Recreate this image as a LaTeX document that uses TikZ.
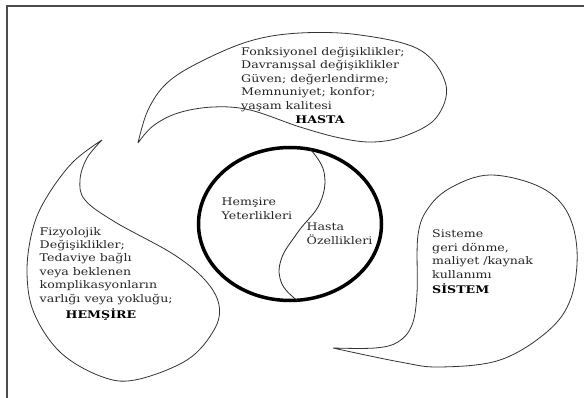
\documentclass[tikz,border=0pt]{standalone}
\usepackage{fontspec}
\usetikzlibrary{shapes.geometric}
\setmainfont{DejaVu Serif}[FakeStretch=1.2]
\begin{document}
\begin{tikzpicture}[x=1pt,y=-1pt,
  bubble/.style={draw=black!80, line width=0.8pt, line join=round},
  txt/.style={inner sep=0pt, align=left, anchor=north west, text=black!85,
    font=\fontsize{10.5}{13.4}\selectfont},
  ttl/.style={inner sep=0pt, anchor=base west, text=black,
    font=\fontsize{10.5}{13.4}\selectfont\bfseries},
  frame/.style={draw=black!70, line width=1.6pt}]
\useasboundingbox (0,0) rectangle (584,398);
% frame (top and left edges)
\coordinate (fbl) at (7,398);
\coordinate (ftl) at (7,6);
\coordinate (ftr) at (584,6);
\draw[frame] (fbl) -- (ftl) -- (ftr);
% top bubble (HASTA)
\draw[bubble] plot[smooth, tension=0.6] coordinates {
 (138,143) (148,110) (167,83) (200,62) (250,41) (300,33) (360,35) (420,50)
 (446,85) (436,118) (405,136) (373,142) (340,138) (300,127) (250,110)
 (213,107) (178,113) (153,126) (138,143)};
% left bubble (HEMSIRE)
\draw[bubble] plot[smooth, tension=0.6] coordinates {
 (102,140) (72,163) (45,200) (32,232) (27,273) (34,313) (60,352) (100,376)
 (135,380) (187,360) (214,330) (219,305) (205,280) (173,254) (115,222)
 (85,200) (80,180) (87,158) (102,140)};
% right bubble (SISTEM)
\draw[bubble] plot[smooth, tension=0.6] coordinates {
 (333,348) (400,362) (440,367) (500,360) (548,331) (571,298) (577,250)
 (566,210) (538,186) (490,175) (452,187) (429,207) (418,235) (417,293)
 (412,325) (398,342) (375,348) (333,348)};
% center ellipse
\node[draw=black, line width=3.5pt, ellipse, minimum width=183pt, minimum height=153pt,
  inner sep=0pt] (core) at (290,224) {};
\draw[black!85, line width=0.8pt] plot[smooth, tension=0.7] coordinates {
 (310,149) (324,172) (320,203) (298,232) (281,260) (282,284) (298,301)};
% texts
\node[txt] (hastatxt) at (241,47) {Fonksiyonel değişiklikler;\\Davranışsal değişiklikler\\Güven; değerlendirme;\\Memnuniyet; konfor;\\yaşam kalitesi};
\node[ttl, anchor=base] (hasta) at (320,124) {HASTA};
\node[txt] (hemtxt) at (39.5,227) {Fizyolojik\\Değişiklikler;\\Tedaviye bağlı\\veya beklenen\\komplikasyonların\\varlığı veya yokluğu;};
\node[ttl, anchor=base] (hem) at (101,318) {HEMŞİRE};
\node[txt] (sistxt) at (432,230) {Sisteme\\geri dönme,\\maliyet /kaynak\\kullanımı};
\node[ttl] (sis) at (432,294) {SİSTEM};
\node[txt] (yet) at (221.5,198) {Hemşire\\Yeterlikleri};
\node[txt] (ozl) at (306.5,223) {Hasta\\Özellikleri};
\end{tikzpicture}
\end{document}
